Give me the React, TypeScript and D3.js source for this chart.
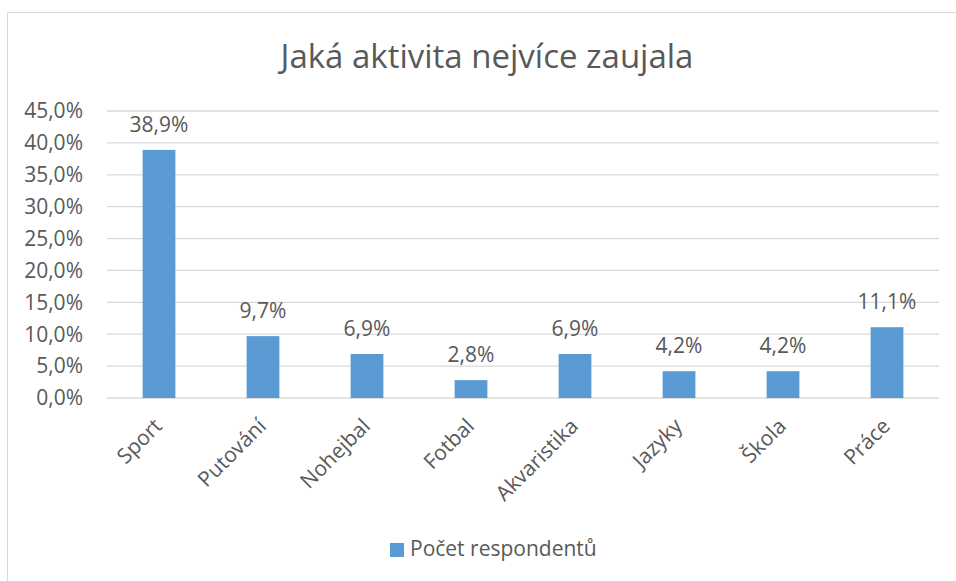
import React from "react";
import * as d3 from "d3";

const categories = ["Sport", "Putování", "Nohejbal", "Fotbal", "Akvaristika", "Jazyky", "Škola", "Práce"];
const values = [38.9, 9.7, 6.9, 2.8, 6.9, 4.2, 4.2, 11.1];
const yTicks = [0, 5, 10, 15, 20, 25, 30, 35, 40, 45];
const title = "Jaká aktivita nejvíce zaujala";
const seriesName = "Počet respondentů";

const W = 956;
const H = 581;
const FONT = "'Open Sans', 'Noto Sans', sans-serif";
const TEXT = "#595959";
const BAR = "#5b9bd5";
const GRID = "#d9d9d9";
const FS = 21;

const fmt = (v: number) => v.toFixed(1).replace(".", ",") + "%";

export default function App() {
  const x = d3.scaleBand<string>().domain(categories).range([107, 939]).paddingInner(0.685).paddingOuter(0.3425);
  const y = d3.scaleLinear().domain([0, 45]).range([398, 111]);

  return (
    <svg width={W} height={H} style={{ position: "absolute", left: 0, top: 0, background: "#fff" }} fontFamily={FONT}>
      <rect x={7.5} y={12.5} width={W} height={H} fill="#fff" stroke={GRID} strokeWidth={1} />
      <text x={487} y={68} textAnchor="middle" fontSize={33} fill={TEXT}>{title}</text>
      {yTicks.map((t) => (
        <g key={t}>
          <line x1={107} x2={939} y1={y(t)} y2={y(t)} stroke={GRID} strokeWidth={1.3} />
          <text x={83} y={y(t)} dy="0.35em" textAnchor="end" fontSize={FS} fill={TEXT}>{fmt(t)}</text>
        </g>
      ))}
      {categories.map((c, i) => (
        <g key={c}>
          <rect x={x(c)} y={y(values[i])} width={x.bandwidth()} height={y(0) - y(values[i])} fill={BAR} />
          <text x={(x(c) as number) + x.bandwidth() / 2} y={y(values[i]) - 18} textAnchor="middle" fontSize={FS} fill={TEXT}>{fmt(values[i])}</text>
          <text transform={`translate(${(x(c) as number) + x.bandwidth() / 2 - 6},${417}) rotate(-45)`} textAnchor="end" dy="0.7em" fontSize={FS} fill={TEXT}>{c}</text>
        </g>
      ))}
      <rect x={390} y={543} width={14} height={14} fill={BAR} />
      <text x={410} y={549} dy="0.35em" fontSize={FS} fill={TEXT}>{seriesName}</text>
    </svg>
  );
}
